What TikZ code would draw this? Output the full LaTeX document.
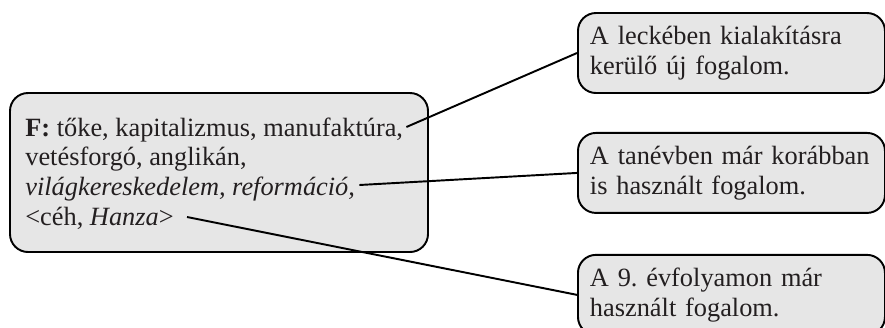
\documentclass[tikz,border=0pt]{standalone}
\usepackage{fontspec}
\setmainfont{Liberation Serif}
\usepackage{xcolor}
\usepackage{tikz}
\usetikzlibrary{positioning, calc}
\definecolor{boxgray}{HTML}{E6E6E6}
\definecolor{inkcolor}{HTML}{231F20}
\frenchspacing
\hyphenpenalty=10000

\tikzset{
  notebox/.style={draw=black, line width=1.1pt, fill=boxgray, rounded corners=0.36cm},
  keybox/.style={notebox, anchor=west, minimum height=1.6cm, text width=5.66cm, inner xsep=0.24cm, align=left, text=inkcolor, font=\fontsize{15pt}{16.8pt}\selectfont},
  termline/.style={anchor=base west, inner sep=0pt, text=inkcolor, font=\fontsize{15pt}{16.8pt}\selectfont},
  link/.style={black, line width=1.1pt}
}

\begin{document}
\begin{tikzpicture}
    \clip (0,0) rectangle (17.7,6.54);

    % Main box with the terms
    \node[notebox, minimum width=8.36cm, minimum height=3.18cm] (terms) at (4.38,3.09) {};
    \node[termline] (l1) at (0.5,3.82) {\textbf{F:} tőke, kapitalizmus, manufaktúra,};
    \node[termline] (l2) at (0.5,3.23) {vetésforgó, anglikán,};
    \node[termline] (l3) at (0.5,2.64) {\textit{világkereskedelem, reformáció,}};
    \node[termline] (l4) at (0.5,2.04) {<céh, \textit{Hanza}>};

    % Key boxes on the right
    \node[keybox] (newterm) at (11.54,5.48) {A leckében kialakításra\\kerülő új fogalom.};
    \node[keybox, below=0.76cm of newterm] (yearterm) {A tanévben már korábban\\is használt fogalom.};
    \node[keybox, below=0.8cm of yearterm] (oldterm) {A 9. évfolyamon már\\használt fogalom.};

    % Connectors
    \coordinate (e1) at ($(l1.base east)+(0.06,0.18)$);
    \coordinate (e3) at ($(l3.base east)+(0.08,0.2)$);
    \coordinate (e4) at ($(l4.base east)+(0.26,0.16)$);
    \draw[link] (e1) -- (newterm.west);
    \draw[link] (e3) -- (yearterm.west);
    \draw[link] (e4) -- (oldterm.west);
\end{tikzpicture}
\end{document}
